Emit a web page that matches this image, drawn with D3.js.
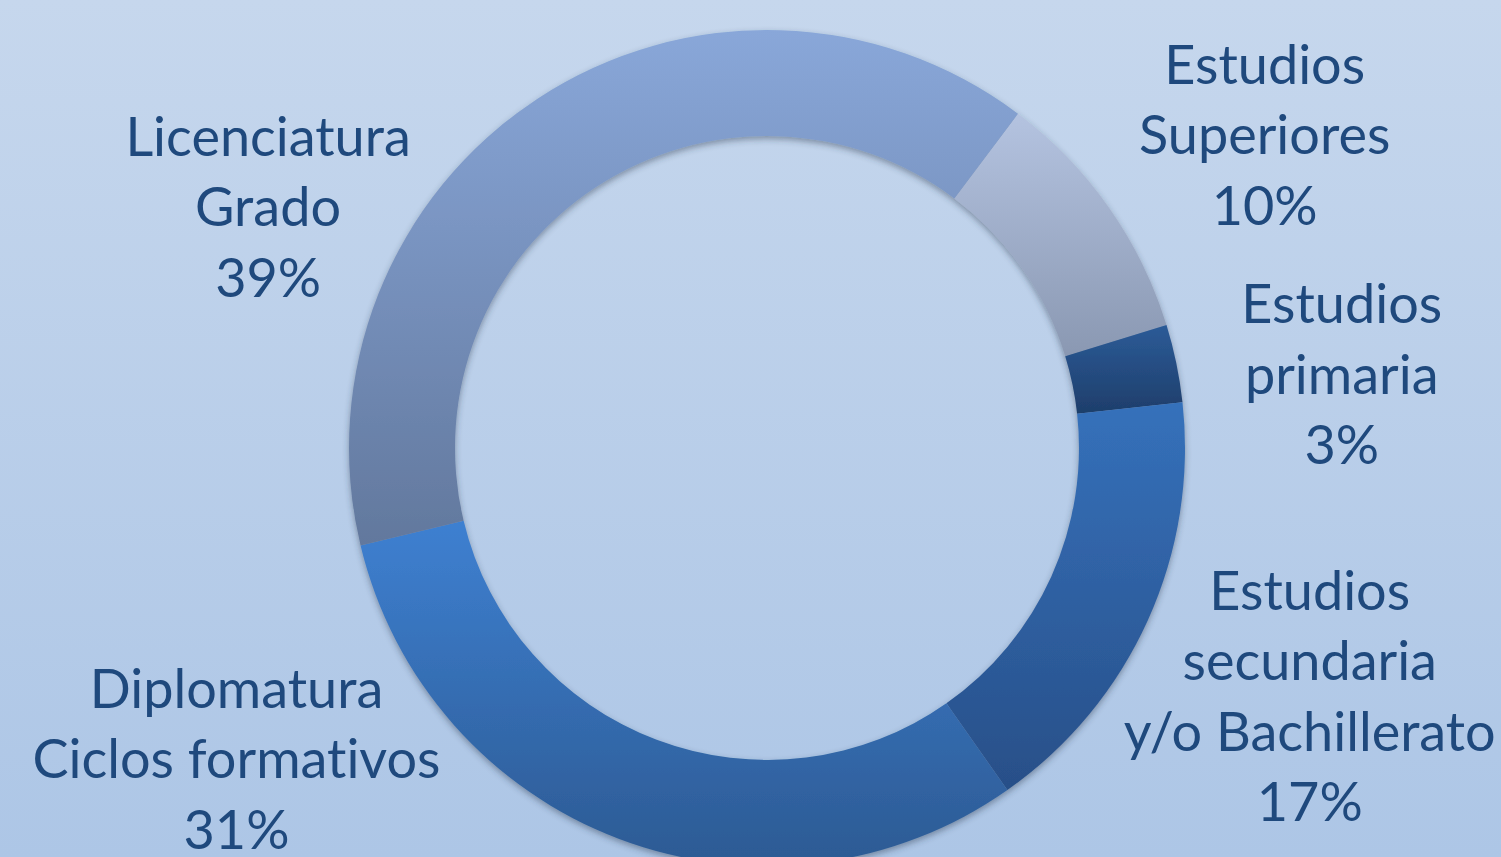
<!DOCTYPE html>
<html>
<head>
<meta charset="utf-8">
<script src="https://cdn.jsdelivr.net/npm/d3@7"></script>
<style>
  html, body { margin: 0; padding: 0; overflow: hidden; }
  .label {
    font-family: Lato, "Open Sans", sans-serif;
    fill: #1f497d;
    font-variant-ligatures: none;
    font-feature-settings: "liga" 0, "dlig" 0;
  }
</style>
</head>
<body>
<svg id="chart"></svg>
<script>
const width = 1501;
const height = 857;

// data, clockwise from the slice after Licenciatura
const categories = [
    ["Estudios", "Superiores"],
    ["Estudios", "primaria"],
    ["Estudios", "secundaria", "y/o Bachillerato"],
    ["Diplomatura", "Ciclos formativos"],
    ["Licenciatura", "Grado"]
];
const percents = [10, 3, 17, 31, 39];

// gradient top / bottom colours per slice
const topColors = ["#b4c3e0", "#2c5b97", "#3571bb", "#3e80d1", "#89a7d9"];
const bottomColors = ["#8a98b2", "#1e3e6b", "#284f88", "#2c5a93", "#62789d"];

// label nudges from the outer centroid (dx, dy of first baseline)
const labelNudge = [[15, -25], [-3, -5], [5, -81], [-322, -292], [-175, 201]];

const cx = 767, cy = 448;
const outerR = 418, innerR = 312;
const labelR = 590;
const lineH = 70.5;
const startDeg = 36.9;

const svg = d3.select("#chart")
    .attr("width", width)
    .attr("height", height);

const defs = svg.append("defs");

const bg = defs.append("linearGradient")
    .attr("id", "bg")
    .attr("x1", 0).attr("y1", 0).attr("x2", 0).attr("y2", 1);
bg.append("stop").attr("offset", 0).attr("stop-color", "#c6d7ed");
bg.append("stop").attr("offset", 1).attr("stop-color", "#adc6e6");

percents.forEach((_, i) => {
    const g = defs.append("linearGradient")
        .attr("id", "slice" + i)
        .attr("x1", 0).attr("y1", 0).attr("x2", 0).attr("y2", 1);
    g.append("stop").attr("offset", 0).attr("stop-color", topColors[i]);
    g.append("stop").attr("offset", 1).attr("stop-color", bottomColors[i]);
});

const shadow = defs.append("filter")
    .attr("id", "shadow")
    .attr("x", "-10%").attr("y", "-10%")
    .attr("width", "120%").attr("height", "120%");
shadow.append("feDropShadow")
    .attr("dx", 0).attr("dy", 3)
    .attr("stdDeviation", 3)
    .attr("flood-color", "#2a3a50")
    .attr("flood-opacity", 0.45);

svg.append("rect")
    .attr("width", width)
    .attr("height", height)
    .attr("fill", "url(#bg)");

const pie = d3.pie()
    .sort(null)
    .startAngle(startDeg * Math.PI / 180)
    .endAngle(startDeg * Math.PI / 180 + 2 * Math.PI);

const arcs = pie(percents);

const arc = d3.arc()
    .innerRadius(innerR)
    .outerRadius(outerR);

const labelArc = d3.arc()
    .innerRadius(labelR)
    .outerRadius(labelR);

const donut = svg.append("g")
    .attr("transform", `translate(${cx},${cy})`)
    .attr("filter", "url(#shadow)");

donut.selectAll("path")
    .data(arcs)
    .enter().append("path")
    .attr("d", arc)
    .attr("fill", (d, i) => `url(#slice${i})`);

// labels: category lines + percent
const labels = svg.append("g")
    .attr("transform", `translate(${cx},${cy})`);

arcs.forEach((d, i) => {
    const [x, y] = labelArc.centroid(d);
    const lines = categories[i].concat([percents[i] + "%"]);
    const t = labels.append("text")
        .attr("class", "label")
        .attr("text-anchor", "middle")
        .attr("font-size", 54)
        .attr("x", x + labelNudge[i][0])
        .attr("y", y + labelNudge[i][1]);
    lines.forEach((line, j) => {
        t.append("tspan")
            .attr("x", x + labelNudge[i][0])
            .attr("y", y + labelNudge[i][1] + j * lineH)
            .text(line);
    });
});
</script>
</body>
</html>
